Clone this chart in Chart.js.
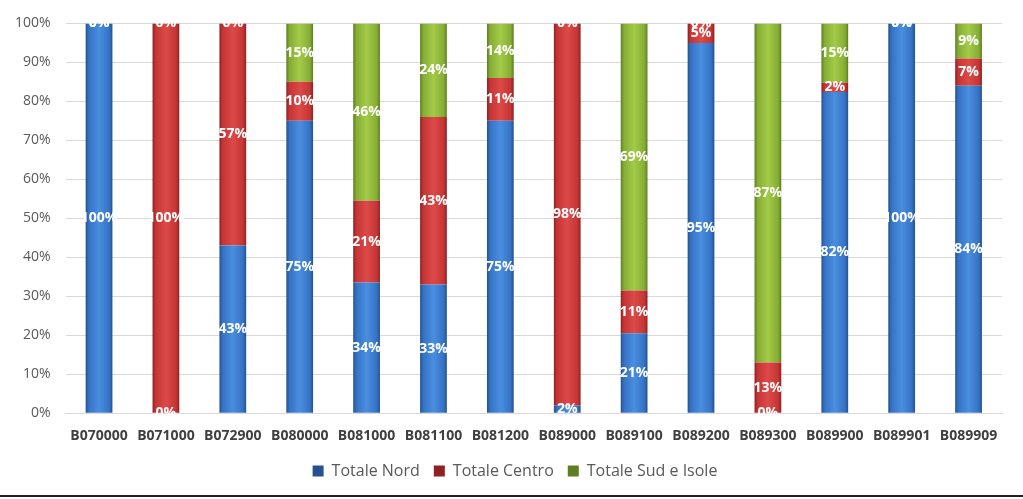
<!DOCTYPE html>
<html lang="it">
  <head>
    <meta charset="UTF-8" />
    <script src="https://cdn.jsdelivr.net/npm/chart.js"></script>
    <title>Ripartizione per area</title>
    <style>
      body { margin: 0; background: #fff; }
      .wrap { width: 1023px; height: 495px; border-bottom: 2px solid #222; }
    </style>
  </head>
  <body>
    <div class="wrap"><canvas id="grafico"></canvas></div>
  </body>
</html>

<script>
  const categorie = ["B070000", "B071000", "B072900", "B080000", "B081000", "B081100", "B081200",
    "B089000", "B089100", "B089200", "B089300", "B089900", "B089901", "B089909"];
  const nord   = [1.00, 0.00, 0.43, 0.75, 0.335, 0.33, 0.75, 0.02, 0.205, 0.95, 0.00, 0.824, 1.00, 0.84];
  const centro = [0.00, 1.00, 0.57, 0.10, 0.21,  0.43, 0.11, 0.98, 0.11,  0.05, 0.13, 0.024, 0.00, 0.07];
  const sud    = [0.00, 0.00, 0.00, 0.15, 0.455, 0.24, 0.14, 0.00, 0.685, 0.00, 0.87, 0.152, 0.00, 0.09];
  const tickY = [0, 0.1, 0.2, 0.3, 0.4, 0.5, 0.6, 0.7, 0.8, 0.9, 1];

  // colori: bordo scuro, centro chiaro
  function barGradient(dark, mid, light) {
    return function (ctx) {
      const chart = ctx.chart;
      const xs = chart.scales.x;
      if (!xs || ctx.dataIndex === undefined || ctx.type !== "data") return mid;
      const cx = xs.getPixelForValue(ctx.dataIndex);
      const w = (xs.width / categorie.length) * 0.4;
      if (!isFinite(cx) || !isFinite(w) || w <= 0) return mid;
      const g = chart.ctx.createLinearGradient(cx - w / 2, 0, cx + w / 2, 0);
      g.addColorStop(0, dark);
      g.addColorStop(0.12, mid);
      g.addColorStop(0.5, light);
      g.addColorStop(0.88, mid);
      g.addColorStop(1, dark);
      return g;
    };
  }

  const etichette = {
    id: "etichette",
    afterDatasetsDraw(chart) {
      const c = chart.ctx;
      c.save();
      c.font = "bold 14px 'Open Sans'";
      c.fillStyle = "#ffffff";
      c.textAlign = "center";
      c.textBaseline = "middle";
      chart.data.datasets.forEach(function (ds, i) {
        const meta = chart.getDatasetMeta(i);
        meta.data.forEach(function (bar, j) {
          const v = ds.data[j];
          const y = (bar.y + bar.base) / 2;
          c.fillText(Math.round(v * 100) + "%", bar.x, y);
        });
      });
      c.restore();
    }
  };

  // sposta la legenda verso il centro dell'area del grafico
  const spostaLegenda = {
    id: "spostaLegenda",
    afterLayout(chart) {
      if (chart.legend) {
        chart.legend.left += 14;
        chart.legend.right += 14;
      }
    }
  };

  const config = {
    type: "bar",
    data: {
      labels: categorie,
      datasets: [
        { label: "Totale Nord", data: nord, backgroundColor: barGradient("#23528f", "#3572c4", "#4a8ee0") },
        { label: "Totale Centro", data: centro, backgroundColor: barGradient("#8e2222", "#c53535", "#dc4a48") },
        { label: "Totale Sud e Isole", data: sud, backgroundColor: barGradient("#5d7f22", "#86ad34", "#a3cb48") }
      ]
    },
    options: {
      responsive: true,
      maintainAspectRatio: false,
      animation: false,
      layout: { padding: { top: 13, left: 0, right: 21, bottom: 6 } },
      datasets: { bar: { barPercentage: 0.4, categoryPercentage: 1.0 } },
      scales: {
        x: {
          stacked: true,
          grid: { display: false },
          border: { color: "#d9d9d9" },
          afterFit: function (scale) { scale.height -= 1; },
          ticks: { color: "#404040", font: { family: "'Open Sans'", size: 14, weight: "bold" }, padding: 6 }
        },
        y: {
          stacked: true,
          min: 0,
          max: 1,
          afterBuildTicks: function (axis) { axis.ticks = tickY.map(function (v) { return { value: v }; }); },
          grid: { color: "#d9d9d9", drawTicks: false },
          border: { display: false },
          ticks: {
            color: "#595959",
            font: { family: "'Open Sans'", size: 14 },
            padding: 15,
            callback: function (v) { return Math.round(v * 100) + "%"; }
          }
        }
      },
      plugins: {
        legend: {
          position: "bottom",
          labels: {
            color: "#595959",
            font: { family: "'Open Sans'", size: 16 },
            boxWidth: 11,
            boxHeight: 11,
            padding: 14
          }
        },
        tooltip: { enabled: false }
      }
    },
    plugins: [etichette, spostaLegenda]
  };

  const grafico = new Chart(document.getElementById("grafico"), config);
</script>
